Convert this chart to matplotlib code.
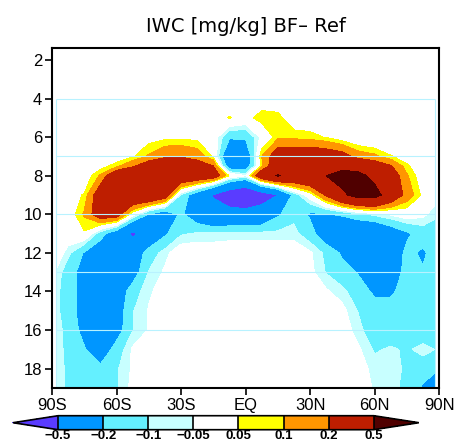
import matplotlib
matplotlib.use("Agg")
import matplotlib.pyplot as plt
import numpy as np
from matplotlib.colors import ListedColormap, BoundaryNorm

plt.rcParams['font.family'] = ['Liberation Sans', 'DejaVu Sans']

# latitude columns (deg) and model levels of the IWC difference field
lats = [-88, -82.5, -75, -67.5, -60, -52.5, -45, -37.5, -30, -22.5, -15, -7.5, 0,
        7.5, 15, 22.5, 30, 37.5, 45, 52.5, 60, 67.5, 75, 82.5, 88]
levs = [4, 5, 6, 7, 7.5, 8, 9, 10, 11, 12, 13, 14, 15, 16, 17, 18, 19]

# BF - Ref difference [mg/kg], one list per level, 88S -> 88N
k04 = [0]*25
k05 = [0, 0, 0, 0, 0, 0, 0, 0, 0, 0, 0, 0.055, 0.02, 0.08, 0.07, 0, 0, 0, 0, 0, 0, 0, 0, 0, 0]
k06 = [0, 0, 0, 0, 0, 0, 0.02, 0.03, 0.03, 0.03, 0, -0.18, -0.18, -0.03, 0.08, 0.08, 0.07, 0.045,
       0, -0.03, -0.045, -0.03, 0, 0, 0]
k07 = [0, 0, 0, 0, 0, 0.04, 0.11, 0.18, 0.19, 0.15, 0.04, -0.4, -0.35, 0.1, 0.3, 0.3, 0.32, 0.3,
       0.26, 0.15, 0.12, 0.055, 0.02, 0, 0]
k075 = [0, 0, 0, 0.02, 0.08, 0.18, 0.3, 0.32, 0.3, 0.28, 0.2, -0.3, -0.3, 0.08, 0.35, 0.38, 0.38,
        0.4, 0.42, 0.38, 0.3, 0.21, 0.06, 0, 0]
k08 = [0, 0, 0, 0.11, 0.35, 0.4, 0.42, 0.42, 0.38, 0.35, 0.3, 0.04, -0.05, 0.35, 0.52, 0.4, 0.42,
       0.5, 0.6, 0.58, 0.42, 0.3, 0.11, 0, 0]
k09 = [0, 0.02, 0.055, 0.3, 0.38, 0.4, 0.42, 0.3, -0.11, -0.3, -0.52, -0.7, -0.8, -0.65, -0.5,
       -0.15, 0, 0.22, 0.45, 0.6, 0.6, 0.35, 0.15, 0.03, 0]
k10 = [0, 0, 0.11, 0.3, 0.28, 0, -0.21, -0.3, -0.18, -0.3, -0.4, -0.38, -0.38, -0.35, -0.22,
       -0.12, -0.22, -0.21, -0.18, -0.12, -0.08, -0.04, 0, -0.03, -0.09]
k11 = [-0.02, 0, 0.04, -0.15, -0.3, -0.55, -0.35, -0.22, -0.11, -0.09, -0.09, -0.08, -0.08, -0.08,
       -0.08, -0.08, -0.15, -0.3, -0.4, -0.4, -0.4, -0.3, -0.22, -0.15, -0.13]
k12 = [0, -0.08, -0.21, -0.3, -0.35, -0.3, -0.15, -0.07, 0, 0, 0, 0, 0, 0, 0, 0, -0.04, -0.12,
       -0.22, -0.3, -0.32, -0.3, -0.17, -0.22, -0.15]
k13 = [-0.06, -0.15, -0.25, -0.35, -0.35, -0.27, -0.095, -0.04, 0, 0, 0, 0, 0, 0, 0, 0, -0.03,
       -0.105, -0.16, -0.21, -0.3, -0.3, -0.15, -0.19, -0.13]
k14 = [-0.08, -0.15, -0.25, -0.35, -0.3, -0.14, -0.06, -0.02, 0, 0, 0, 0, 0, 0, 0, 0, 0, -0.04,
       -0.08, -0.15, -0.22, -0.22, -0.15, -0.15, -0.12]
k15 = [-0.08, -0.15, -0.25, -0.35, -0.28, -0.105, -0.045, -0.02, 0, 0, 0, 0, 0, 0, 0, 0, 0, 0,
       -0.03, -0.105, -0.15, -0.15, -0.15, -0.15, -0.12]
k16 = [-0.07, -0.13, -0.24, -0.35, -0.26, -0.105, -0.045, -0.01, 0, 0, 0, 0, 0, 0, 0, 0, 0, 0,
       -0.01, -0.08, -0.15, -0.15, -0.15, -0.15, -0.12]
k17 = [-0.06, -0.13, -0.19, -0.3, -0.15, -0.04, -0.01, 0, 0, 0, 0, 0, 0, 0, 0, 0, 0, 0, 0,
       -0.04, -0.11, -0.09, -0.11, -0.08, -0.1]
k18 = [-0.06, -0.12, -0.14, -0.17, -0.11, -0.04, 0, 0, 0, 0, 0, 0, 0, 0, 0, 0, 0, 0, 0,
       -0.02, -0.07, -0.08, -0.11, -0.14, -0.17]
k19 = [-0.05, -0.12, -0.14, -0.15, -0.11, -0.03, 0, 0, 0, 0, 0, 0, 0, 0, 0, 0, 0, 0, 0,
       0, -0.06, -0.08, -0.12, -0.22, -0.3]

clevs = [-0.5, -0.2, -0.1, -0.05, 0.05, 0.1, 0.2, 0.5]
clabels = ['\u22120.5', '\u22120.2', '\u22120.1', '\u22120.05', '0.05', '0.1', '0.2', '0.5']
xticks = [-90, -60, -30, 0, 30, 60, 90]
xlabels = ['90S', '60S', '30S', 'EQ', '30N', '60N', '90N']

field = np.array([k04, k05, k06, k07, k075, k08, k09, k10, k11, k12, k13, k14, k15, k16,
                  k17, k18, k19])

cmap = ListedColormap(['#0096ff', '#64f0ff', '#c8ffff', '#ffffff',
                       '#ffff00', '#ff9600', '#be1e00'])
cmap.set_under('#5a3cff')
cmap.set_over('#500000')
norm = BoundaryNorm(clevs, cmap.N)

fig = plt.figure(figsize=(4.56, 4.43), dpi=100)
ax = fig.add_axes([0.114, 0.1242, 0.849, 0.7675])

cf = ax.contourf(lats, levs, field, levels=clevs, cmap=cmap, norm=norm, extend='both')

# grid box outline and level lines
ax.hlines([4, 7, 10, 13, 16], -88, 88, colors='#b8f2ff', linewidth=0.8)
ax.vlines([-88, 88], 4, 19, colors='#b8f2ff', linewidth=0.8)

ax.set_xlim(-90, 90)
ax.set_ylim(19, 1.38)
ax.set_xticks(xticks)
ax.set_xticklabels(xlabels)
ax.set_yticks(np.arange(2, 19, 2))
ax.tick_params(direction='out', length=5, width=1.2, labelsize=12, pad=2)
for s in ax.spines.values():
    s.set_linewidth(1.5)
ax.set_title('IWC [mg/kg] BF\u2013 Ref', fontsize=14, pad=11.5, family='DejaVu Sans')

cax = fig.add_axes([0.0285, 0.03, 0.890, 0.0316])
cb = fig.colorbar(cf, cax=cax, orientation='horizontal', extendfrac=1/7,
                  drawedges=True, ticks=clevs)
cb.set_ticklabels(clabels)
cb.ax.tick_params(length=0, pad=0.5, labelsize=9.5)
for t in cb.ax.get_xticklabels():
    t.set_fontweight('bold')
cb.outline.set_linewidth(1.2)
cb.dividers.set_linewidth(1.2)

fig.savefig('out.png', dpi=100)
